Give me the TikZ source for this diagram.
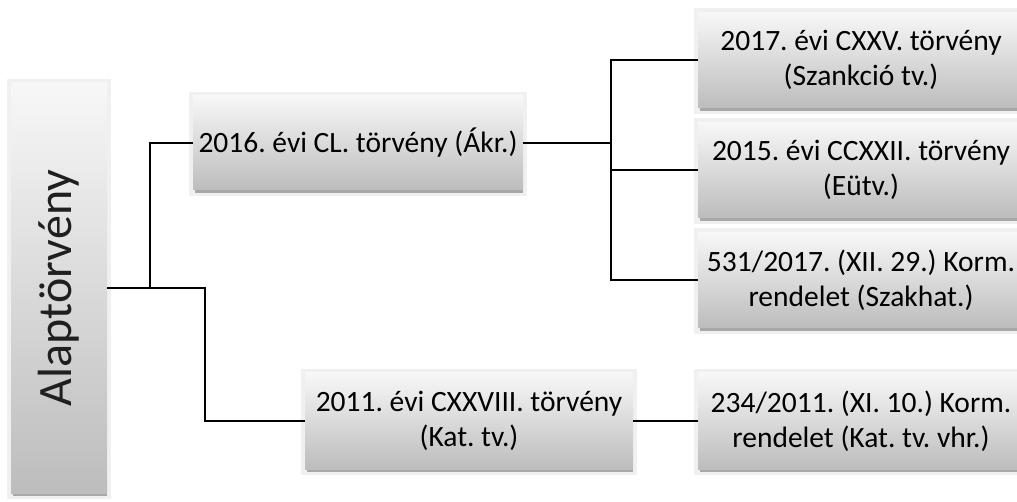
\documentclass[tikz,border=0pt]{standalone}
\usepackage{fontspec}
\setmainfont{Carlito}
\frenchspacing
\usetikzlibrary{backgrounds}
\begin{document}
\begin{tikzpicture}[x=1pt,y=-1pt,
  box/.style={rectangle, inner sep=0pt, align=center,
    top color=white!97!black, bottom color=white!74!black,
    font=\fontsize{29.5}{35}\selectfont, text=black},
  link/.style={line width=1.6pt, black},
  glow/.style={fill=white!94!black},
  rim/.style={fill=white!66!black}]
\useasboundingbox (0,0) rectangle (1017,502);
\clip (0,0) rectangle (1017,502);

% root box with vertical title
\node[box, minimum width=96pt, minimum height=410pt] (A) at (59,288) {};
\node[rotate=90, font=\fontsize{48}{52}\selectfont, text=black!88] (At) at (A.center) {Alaptörvény};

% first level
\node[box, minimum width=330pt, minimum height=94pt] (B) at (358,143) {2016. évi CL. törvény (Ákr.)};
\node[box, minimum width=328pt, minimum height=96pt] (D) at (469,421) {2011. évi CXXVIII. törvény\\(Kat. tv.)};

% second level
\node[box, minimum width=326pt, minimum height=95pt] (R1) at (861,60) {2017. évi CXXV. törvény\\(Szankció tv.)};
\node[box, minimum width=326pt, minimum height=95pt] (R2) at (861,170) {2015. évi CCXXII. törvény\\(Eütv.)};
\node[box, minimum width=326pt, minimum height=95pt] (R3) at (861,280) {531/2017. (XII. 29.) Korm.\\rendelet (Szakhat.)};
\node[box, minimum width=326pt, minimum height=96pt] (E) at (861,421) {234/2011. (XI. 10.) Korm.\\rendelet (Kat. tv. vhr.)};

% soft halo and bottom rim behind each box
\begin{scope}[on background layer]
\foreach \n in {A,B,D,R1,R2,R3,E}{
  \fill[glow] ([shift={(-4pt,4pt)}]\n.north west) rectangle ([shift={(4pt,-6pt)}]\n.south east);
  \fill[rim] ([shift={(2pt,1pt)}]\n.south west) rectangle ([shift={(0pt,-3pt)}]\n.south east);
}
\end{scope}

% connectors
\coordinate (fork) at (205,288);
\coordinate (upfork) at (150,288);
\coordinate (rfork) at (611,143);
\draw[link] (A.east) -- (fork) |- (D.west);
\draw[link] (upfork) |- (B.west);
\draw[link] (B.east) -- (rfork);
\draw[link] (R1.west) -| (rfork) |- (R3.west);
\draw[link] (rfork |- R2.west) -- (R2.west);
\draw[link] (D.east) -- (E.west);
\end{tikzpicture}
\end{document}
